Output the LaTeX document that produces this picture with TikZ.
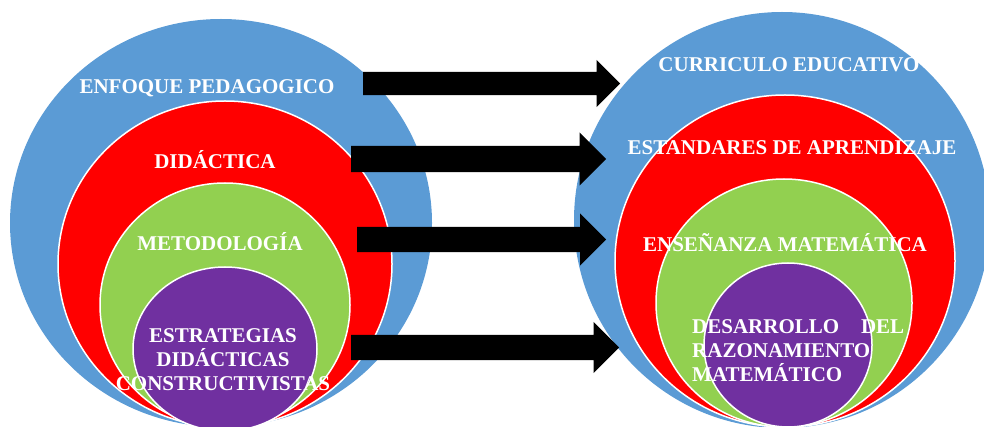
\documentclass[tikz,border=0pt]{standalone}
\usepackage{fontspec}
\setmainfont{Liberation Serif}
\usetikzlibrary{positioning,shapes.geometric,shapes.arrows}
\definecolor{ringblue}{HTML}{5B9BD5}
\definecolor{ringred}{HTML}{FF0000}
\definecolor{ringgreen}{HTML}{92D050}
\definecolor{ringpurple}{HTML}{7030A0}

\begin{document}
\begin{tikzpicture}[x=1pt, y=-1pt,
  ring/.style={ellipse, draw=white, line width=1.5pt, inner sep=0pt},
  lbl/.style={text=white, font=\bfseries\fontsize{21}{24}\selectfont, align=center, inner sep=0pt},
  blockarrow/.style={single arrow, fill=black, inner sep=0pt, single arrow tip angle=90, anchor=tail}
]
\useasboundingbox (0,0) rectangle (984,427);
\clip (0,0) rectangle (984,427);

% left side
\node[ring, draw=none, fill=ringblue, minimum width=422pt, minimum height=408pt] (blueL) at (221,223) {};
\node[ring, fill=ringred, minimum width=334pt, minimum height=326pt] (redL) at (225,264) {};
\node[ring, fill=ringgreen, minimum width=250pt, minimum height=244pt] (greenL) at (225,305) {};
\node[ring, fill=ringpurple, minimum width=184pt, minimum height=164pt] (purpleL) at (225,349) {};

% right side
\node[ring, draw=none, fill=ringblue, minimum width=416pt, minimum height=416pt] (blueR) at (782,220) {};
\node[ring, fill=ringred, minimum width=340pt, minimum height=332pt] (redR) at (785,261) {};
\node[ring, fill=ringgreen, minimum width=256pt, minimum height=248pt] (greenR) at (784,303) {};
\node[ring, fill=ringpurple, minimum width=168pt, minimum height=164pt] (purpleR) at (788,345) {};

% arrows (body thickness set by the rule inside)
\node[blockarrow, minimum height=257pt, single arrow head extend=12pt] (arrA) at (363,83.5) {\rule{0pt}{23pt}};
\node[blockarrow, minimum height=255pt, single arrow head extend=13.5pt] (arrB) at (351,159) {\rule{0pt}{26pt}};
\node[blockarrow, minimum height=249pt, single arrow head extend=13.5pt] (arrC) at (357,239.5) {\rule{0pt}{25pt}};
\node[blockarrow, minimum height=268pt, single arrow head extend=13pt] (arrD) at (351,347.5) {\rule{0pt}{25pt}};

% labels
\node[lbl] (enfoque) at (207,88) {ENFOQUE PEDAGOGICO};
\node[lbl] (didactica) at (215,160) {DIDÁCTICA};
\node[lbl] (metodo) at (220,242) {METODOLOGÍA};
\node[lbl] (estrategias) at (223,360) {ESTRATEGIAS\\DIDÁCTICAS\\CONSTRUCTIVISTAS};

\node[lbl] (curriculo) at (789,64.5) {CURRICULO EDUCATIVO};
\node[lbl] (estandares) at (792,147.5) {ESTANDARES DE APRENDIZAJE};
\node[lbl] (ensenanza) at (785,242.5) {ENSEÑANZA MATEMÁTICA};
\node[lbl, align=left, text width=212pt, anchor=west] (desarrollo) at (692,351) {DESARROLLO\hfill DEL\\RAZONAMIENTO\\MATEMÁTICO};
\end{tikzpicture}
\end{document}
